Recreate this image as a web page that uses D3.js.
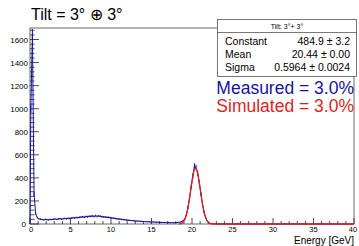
<!DOCTYPE html>
<html>
<head>
<meta charset="utf-8">
<script src="https://cdn.jsdelivr.net/npm/d3@7"></script>
<style>
  body { margin: 0; background: #fff; }
  text { font-family: "Liberation Sans", Arial, sans-serif; }
</style>
</head>
<body>
<div id="chart"></div>
<script>
// datos
const binWidth = 0.2
// histograma medido (bins de 0.2 GeV, 0 - 40)
const measured = [
  1000, 1650, 260, 90, 55,
  45, 42, 38, 36, 40,
  38, 36, 40, 38, 41,
  43, 40, 44, 46, 42,
  46, 48, 45, 50, 48,
  52, 54, 51, 56, 55,
  58, 60, 62, 59, 64,
  63, 67, 66, 70, 65,
  72, 66, 70, 66, 63,
  62, 60, 58, 57, 55,
  52, 50, 48, 46, 44,
  42, 40, 38, 37, 35,
  33, 31, 30, 29, 27,
  26, 25, 24, 23, 22,
  21, 20, 20, 19, 18,
  18, 17, 16, 16, 15,
  14, 14, 13, 13, 12,
  12, 11, 12, 11, 12,
  13, 14, 16, 20, 30,
  40, 80, 142, 228, 325,
  415, 505, 492, 440, 358,
  262, 170, 100, 52, 24,
  10, 4, 2, 1, 1,
  1, 0, 1, 0, 0,
  0, 1, 0, 0, 0,
  0, 0, 0, 1, 0,
  0, 0, 0, 0, 0,
  1, 0, 0, 0, 0,
  0, 0, 0, 0, 0,
  0, 0, 1, 0, 0,
  0, 0, 0, 0, 0,
  0, 0, 0, 0, 0,
  0, 1, 0, 0, 0,
  0, 0, 0, 0, 0,
  0, 0, 0, 0, 0,
  0, 0, 0, 0, 0,
  0, 0, 0, 0, 0,
  0, 0, 0, 0, 0,
  0, 0, 0, 0, 0,
  0, 0, 0, 0, 0
]
// curva simulada (ajuste gaussiano)
const simE = [18.4, 18.6, 18.8, 19.0, 19.2, 19.4, 19.6, 19.8, 20.0, 20.2, 20.4, 20.6, 20.8, 21.0, 21.2, 21.4, 21.6, 21.8, 22.0, 22.2, 22.4, 22.6, 22.8, 40]
const simY = [1, 4, 11, 26, 56, 106, 180, 273, 369, 447, 484, 468, 404, 312, 215, 133, 73, 36, 16, 6, 2, 1, 0, 0]

const xTicks = [0, 5, 10, 15, 20, 25, 30, 35, 40]
const yTicks = [0, 200, 400, 600, 800, 1000, 1200, 1400, 1600]

const title = "Tilt = 3\u00b0 \u2295 3\u00b0"
const statsTitle = "Tilt: 3\u00b0+ 3\u00b0"
const statsNames = ["Constant", "Mean", "Sigma"]
const statsValues = ["484.9 \u00b1 3.2", "20.44 \u00b1 0.00", "0.5964 \u00b1 0.0024"]
const legendTexts = ["Measured = 3.0%", "Simulated = 3.0%"]

// constantes
const width = 359
const height = 246
const margin = { top: 28, bottom: 22, left: 30, right: 5 }
const blue = "#14149e"
const red = "#e01e1e"

const svg = d3.select("#chart").append("svg").attr("width", width).attr("height", height)

const x = d3.scaleLinear().domain([0, 40]).range([margin.left, width - margin.right])
const y = d3.scaleLinear().domain([0, 1700]).range([height - margin.bottom, margin.top])

// marco
svg.append("rect")
    .attr("x", x(0)).attr("y", y(1700))
    .attr("width", x(40) - x(0)).attr("height", y(0) - y(1700))
    .attr("fill", "none").attr("stroke", "#444").attr("stroke-width", 0.8)

// ejes (ticks hacia dentro como en ROOT)
const tickGroup = svg.append("g").attr("stroke", "#222").attr("stroke-width", 0.8)
d3.range(0, 1701, 40).forEach(v => {
    const major = v % 200 === 0
    tickGroup.append("line")
        .attr("x1", x(0)).attr("x2", x(0) + (major ? 9 : 4.5))
        .attr("y1", y(v)).attr("y2", y(v))
})
d3.range(0, 40.01, 1).forEach(v => {
    const major = v % 5 === 0
    tickGroup.append("line")
        .attr("x1", x(v)).attr("x2", x(v))
        .attr("y1", y(0)).attr("y2", y(0) - (major ? 6 : 3))
})

svg.append("g").selectAll("text").data(yTicks).join("text")
    .attr("x", d => d === 0 ? x(0) - 4 : x(0) - 2)
    .attr("y", d => y(d) + 3)
    .attr("text-anchor", "end")
    .attr("font-size", 8)
    .text(d => d)

svg.append("g").selectAll("text").data(xTicks).join("text")
    .attr("x", d => d === 0 ? x(d) + 1 : (d === 40 ? x(d) - 1 : x(d)))
    .attr("y", y(0) + 8)
    .attr("text-anchor", "middle")
    .attr("font-size", 7.5)
    .text(d => d)

svg.append("text")
    .attr("x", x(40)).attr("y", 243.5)
    .attr("text-anchor", "end").attr("font-size", 10)
    .text("Energy [GeV]")

// histograma medido
const bins = measured.map((v, i) => ({ e: (i + 0.5) * binWidth, v: v }))
const line = d3.line().x(d => x(d.e)).y(d => y(d.v))
svg.append("path").datum([{ e: 0, v: 0 }].concat(bins))
    .attr("d", line)
    .attr("fill", "none").attr("stroke", blue).attr("stroke-width", 1)

svg.append("g").selectAll("line").data(bins.filter(d => d.v > 0)).join("line")
    .attr("x1", d => x(d.e)).attr("x2", d => x(d.e))
    .attr("y1", d => y(d.v + Math.sqrt(d.v))).attr("y2", d => y(Math.max(0, d.v - Math.sqrt(d.v))))
    .attr("stroke", blue).attr("stroke-width", 1)

// curva simulada
const sim = simE.map((e, i) => ({ e: e, v: simY[i] }))
svg.append("path").datum(sim)
    .attr("d", d3.line().x(d => x(d.e)).y(d => y(d.v)).curve(d3.curveMonotoneX))
    .attr("fill", "none").attr("stroke", red).attr("stroke-width", 1.3)

// título
svg.append("text")
    .attr("x", 31).attr("y", 20)
    .attr("font-size", 16)
    .text(title)

// caja de estadísticas
const box = svg.append("g")
box.append("rect")
    .attr("x", 217.5).attr("y", 19.5).attr("width", 139).attr("height", 57)
    .attr("fill", "#fff").attr("stroke", "#555").attr("stroke-width", 0.8)
box.append("line")
    .attr("x1", 217.5).attr("x2", 356.5).attr("y1", 32.5).attr("y2", 32.5)
    .attr("stroke", "#555").attr("stroke-width", 0.8)
box.append("text")
    .attr("x", 287).attr("y", 29).attr("text-anchor", "middle").attr("font-size", 7)
    .text(statsTitle)
statsNames.forEach((n, i) => {
    box.append("text").attr("x", 225).attr("y", 45 + i * 13).attr("font-size", 10.5).text(n)
    box.append("text").attr("x", 350).attr("y", 45 + i * 13).attr("font-size", 10.5)
        .attr("text-anchor", "end").text(statsValues[i])
})

// leyenda
svg.append("text")
    .attr("x", 354).attr("y", 94).attr("text-anchor", "end").attr("font-size", 17.5)
    .attr("fill", blue).text(legendTexts[0])
svg.append("text")
    .attr("x", 354).attr("y", 112).attr("text-anchor", "end").attr("font-size", 17.5)
    .attr("fill", red).text(legendTexts[1])
</script>
</body>
</html>
